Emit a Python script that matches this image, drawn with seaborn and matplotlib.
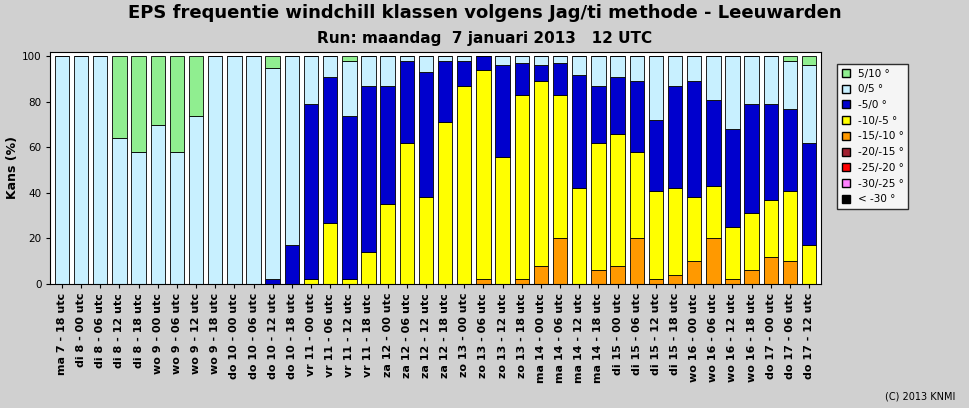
import matplotlib
matplotlib.use("Agg")
import matplotlib.pyplot as plt
import seaborn as sns
import pandas as pd
import numpy as np
from matplotlib.patches import Patch

cats = ["ma 7 - 18 utc","di 8 - 00 utc","di 8 - 06 utc","di 8 - 12 utc","di 8 - 18 utc",
        "wo 9 - 00 utc","wo 9 - 06 utc","wo 9 - 12 utc","wo 9 - 18 utc","do 10 - 00 utc",
        "do 10 - 06 utc","do 10 - 12 utc","do 10 - 18 utc","vr 11 - 00 utc","vr 11 - 06 utc",
        "vr 11 - 12 utc","vr 11 - 18 utc","za 12 - 00 utc","za 12 - 06 utc","za 12 - 12 utc",
        "za 12 - 18 utc","zo 13 - 00 utc","zo 13 - 06 utc","zo 13 - 12 utc","zo 13 - 18 utc",
        "ma 14 - 00 utc","ma 14 - 06 utc","ma 14 - 12 utc","ma 14 - 18 utc","di 15 - 00 utc",
        "di 15 - 06 utc","di 15 - 12 utc","di 15 - 18 utc","wo 16 - 00 utc","wo 16 - 06 utc",
        "wo 16 - 12 utc","wo 16 - 18 utc","do 17 - 00 utc","do 17 - 06 utc","do 17 - 12 utc"]
m15_10 = [0,0,0,0,0,0,0,0,0,0,0,0,0,0,0,0,0,0,0,0,0,0,2,0,2,8,20,0,6,8,20,2,4,10,20,2,6,12,10,0]
m10_5  = [0,0,0,0,0,0,0,0,0,0,0,0,0,2,27,2,14,35,62,38,71,87,92,56,81,81,63,42,56,58,38,39,38,28,23,23,25,25,31,17]
m5_0   = [0,0,0,0,0,0,0,0,0,0,0,2,17,77,64,72,73,52,36,55,27,11,6,40,14,7,14,50,25,25,31,31,45,51,38,43,48,42,36,45]
p0_5   = [100,100,100,64,58,70,58,74,100,100,100,93,83,21,9,24,13,13,2,7,2,2,0,4,3,4,3,8,13,9,11,28,13,11,19,32,21,21,21,34]
p5_10  = [0,0,0,36,42,30,42,26,0,0,0,5,0,0,0,2,0,0,0,0,0,0,0,0,0,0,0,0,0,0,0,0,0,0,0,0,0,0,2,4]

layers = [("-15/-10 °", m15_10, "#ff9900"), ("-10/-5 °", m10_5, "#ffff00"),
          ("-5/0 °", m5_0, "#0000cd"), ("0/5 °", p0_5, "#c8f0ff"), ("5/10 °", p5_10, "#90ee90")]

sns.set_style("white")
plt.rcParams['font.family'] = ['DejaVu Sans']
plt.rcParams['text.color'] = 'black'
plt.rcParams['xtick.color'] = 'black'
plt.rcParams['ytick.color'] = 'black'
plt.rcParams['axes.labelcolor'] = 'black'
fig = plt.figure(figsize=(9.7, 4.08), dpi=100, facecolor="#d0d0d0")
ax = fig.add_axes([0.052, 0.304, 0.794, 0.569])
bottom = np.zeros(len(cats))
for name, vals, col in layers:
    df = pd.DataFrame({"c": cats, "v": vals})
    sns.barplot(data=df, x="c", y="v", color=col, bottom=bottom, width=0.75,
                edgecolor="black", linewidth=0.6, ax=ax, saturation=1)
    bottom = bottom + np.array(vals)
ax.set_ylim(0, 102)
ax.set_xlim(-0.6, len(cats) - 0.4)
ax.set_yticks([0, 20, 40, 60, 80, 100])
ax.tick_params(axis='y', labelsize=7.5, length=3, left=True)
ax.tick_params(axis='x', labelsize=8, rotation=90, length=3, bottom=True)
for t in ax.get_xticklabels():
    t.set_fontweight("bold")
ax.set_xlabel("")
ax.set_ylabel("Kans (%)", fontsize=9, fontweight="bold", labelpad=2)
for s in ax.spines.values():
    s.set_color("black"); s.set_linewidth(0.8)

fig.text(0.5, 0.955, "EPS frequentie windchill klassen volgens Jag/ti methode - Leeuwarden",
         ha="center", fontsize=13, fontweight="bold")
fig.text(0.5, 0.895, "Run: maandag  7 januari 2013   12 UTC", ha="center", fontsize=11, fontweight="bold")
fig.text(0.985, 0.02, "(C) 2013 KNMI", ha="right", fontsize=7)

handles = [Patch(fc=c, ec="black", label=l) for l, c in [
    ("5/10 °", "#90ee90"), ("0/5 °", "#c8f0ff"), ("-5/0 °", "#0000cd"), ("-10/-5 °", "#ffff00"),
    ("-15/-10 °", "#ff9900"), ("-20/-15 °", "#a02030"), ("-25/-20 °", "#ff0000"),
    ("-30/-25 °", "#ff80ff"), ("< -30 °", "#000000")]]
leg = fig.legend(handles=handles, loc="upper left", bbox_to_anchor=(0.858, 0.855), fontsize=7.5,
                 frameon=True, fancybox=False, edgecolor="black", handlelength=0.8, handleheight=0.8,
                 labelspacing=0.55)
leg.get_frame().set_facecolor("white")
fig.savefig("out.png", dpi=100, facecolor=fig.get_facecolor())
